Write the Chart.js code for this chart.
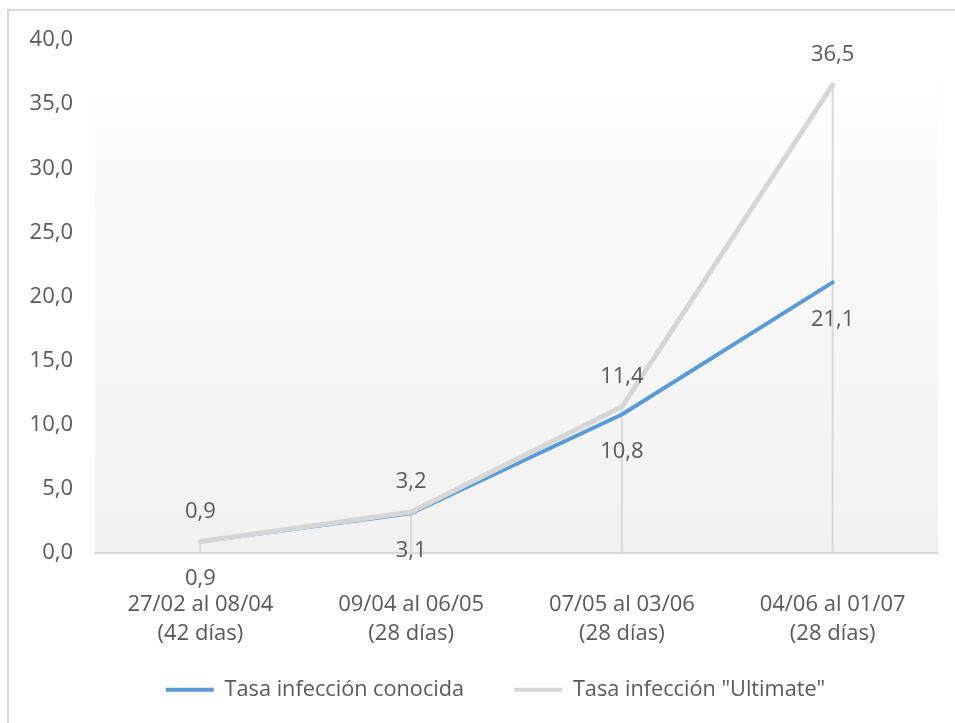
<!DOCTYPE html>
<html>
<head>
<meta charset="utf-8">
<script src="https://cdn.jsdelivr.net/npm/chart.js@4"></script>
<style>
  html, body { margin: 0; padding: 0; background: #fff; overflow: hidden; }
  #box {
    position: absolute; left: 7px; top: 9px;
    width: 946px; height: 712px;
    border-left: 2px solid #d9d9d9; border-top: 2px solid #d9d9d9;
  }
</style>
</head>
<body>
<div id="box"><canvas id="c"></canvas></div>
<script>
const periodos = [
    ['27/02 al 08/04', '(42 días)'],
    ['09/04 al 06/05', '(28 días)'],
    ['07/05 al 03/06', '(28 días)'],
    ['04/06 al 01/07', '(28 días)']
];
const tasaConocida = [0.9, 3.1, 10.8, 21.1];
const tasaUltimate = [0.9, 3.2, 11.4, 36.5];
const yTicks = [0, 5, 10, 15, 20, 25, 30, 35, 40];

const txt = '#595959';
const font = { family: 'Open Sans', size: 22, lineHeight: 1.33 };
const coma = v => v.toFixed(1).replace('.', ',');

// plot background, white at the top fading to light grey
const fondo = {
    id: 'fondo',
    beforeDraw(chart) {
        let { ctx, chartArea: a } = chart;
        let g = ctx.createLinearGradient(0, a.top, 0, a.bottom);
        g.addColorStop(0, '#ffffff');
        g.addColorStop(1, '#f1f1f1');
        ctx.save();
        ctx.fillStyle = g;
        ctx.fillRect(a.left, a.top, a.right - a.left, a.bottom - a.top);
        ctx.restore();
    }
};

// vertical drop lines from the highest point down to the axis
const caida = {
    id: 'caida',
    beforeDatasetsDraw(chart) {
        let { ctx, chartArea: a } = chart;
        let metas = chart.data.datasets.map((d, i) => chart.getDatasetMeta(i));
        ctx.save();
        ctx.strokeStyle = '#d9d9d9';
        ctx.lineWidth = 2;
        metas[0].data.forEach((p, j) => {
            let top = Math.min(...metas.map(m => m.data[j].y));
            ctx.beginPath();
            ctx.moveTo(p.x, top);
            ctx.lineTo(p.x, a.bottom);
            ctx.stroke();
        });
        ctx.restore();
    }
};

// value labels: known rate below the point, "Ultimate" above
const etiquetas = {
    id: 'etiquetas',
    afterDatasetsDraw(chart) {
        let { ctx } = chart;
        ctx.save();
        ctx.font = font.size + 'px "' + font.family + '"';
        ctx.fillStyle = txt;
        ctx.textAlign = 'center';
        ctx.textBaseline = 'middle';
        chart.data.datasets.forEach((ds, i) => {
            let dy = i === 0 ? 37 : -30;
            chart.getDatasetMeta(i).data.forEach((p, j) => {
                ctx.fillText(coma(ds.data[j]), p.x, p.y + dy);
            });
        });
        ctx.restore();
    }
};

// legend sits a bit higher and further right than the layout puts it
const leyenda = {
    id: 'leyenda',
    afterLayout(chart) {
        let l = chart.legend;
        l.top -= 24; l.bottom -= 24;
        l.left += 22; l.right += 22;
    }
};

new Chart(document.getElementById('c'), {
    type: 'line',
    data: {
        labels: periodos,
        datasets: [{
            label: 'Tasa infección conocida',
            data: tasaConocida,
            borderColor: '#5b9bd5',
            backgroundColor: '#5b9bd5',
            borderWidth: 4,
            order: 1
        }, {
            label: 'Tasa infección "Ultimate"',
            data: tasaUltimate,
            borderColor: '#d6d6d6',
            backgroundColor: '#d6d6d6',
            borderWidth: 5,
            order: 0
        }]
    },
    options: {
        responsive: true,
        maintainAspectRatio: false,
        animation: false,
        layout: { padding: { left: 0, right: 17, top: 29, bottom: 0 } },
        elements: {
            point: { radius: 0, hoverRadius: 0 },
            line: { tension: 0, borderCapStyle: 'round', borderJoinStyle: 'round' }
        },
        plugins: {
            tooltip: { enabled: false },
            legend: {
                position: 'bottom',
                maxHeight: 70,
                labels: {
                    color: txt,
                    font: { ...font, size: 21.7 },
                    boxWidth: 48,
                    boxHeight: 4,
                    padding: 50,
                    generateLabels: chart => Chart.defaults.plugins.legend.labels
                        .generateLabels(chart)
                        .map(l => ({ ...l, lineWidth: 0 }))
                        .sort((a, b) => a.datasetIndex - b.datasetIndex)
                }
            }
        },
        scales: {
            x: {
                offset: true,
                grid: { display: false, drawTicks: false },
                border: { display: true, color: '#d9d9d9', width: 2 },
                ticks: { color: txt, font: font, padding: 37, maxRotation: 0 },
                afterFit: s => { s.height = 100; }
            },
            y: {
                min: 0,
                max: 40,
                afterBuildTicks: s => { s.ticks = yTicks.map(v => ({ value: v })); },
                grid: { display: false, drawTicks: false },
                border: { display: false },
                ticks: { color: txt, font: { ...font, lineHeight: 0.6 }, padding: 22, callback: v => coma(v) },
                afterFit: s => { s.width = 86; }
            }
        }
    },
    plugins: [fondo, caida, etiquetas, leyenda]
});
</script>
</body>
</html>
